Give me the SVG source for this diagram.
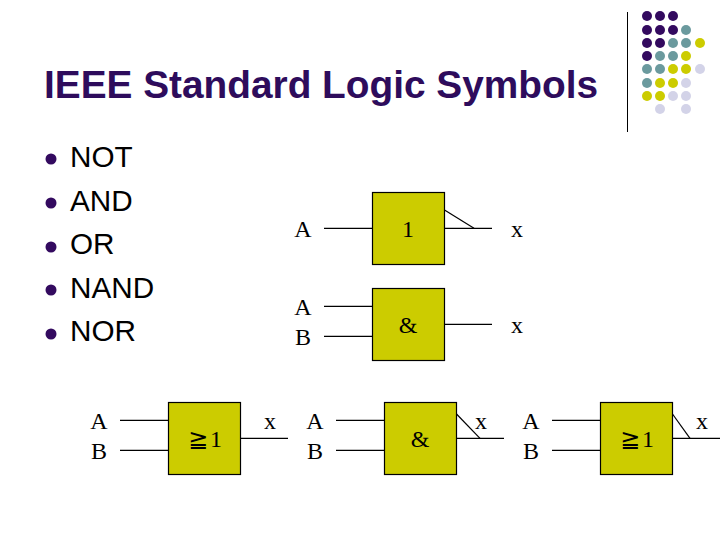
<svg xmlns="http://www.w3.org/2000/svg" width="720" height="540" viewBox="0 0 720 540">
<style>
.p{fill:#330a5f}.t{fill:#6b9a9e}.y{fill:#cccc00}.l{fill:#d3d3e8}
.title{font:bold 38.8px "Liberation Sans",Arial,sans-serif;fill:#2e0c5c}
.item{font:29.7px "Liberation Sans",Arial,sans-serif;fill:#000}
.s{font:24px "Liberation Serif","Times New Roman",serif;fill:#000;text-anchor:middle}
.ge{font:24px "DejaVu Sans",sans-serif;fill:#000}
.gate{fill:#cccc00;stroke:#000;stroke-width:1.2}
#connectors line{stroke:#000;stroke-width:1.2}
</style>
<rect width="720" height="540" fill="#fff"/>
<g id="decor">
<line x1="627.5" y1="12" x2="627.5" y2="132" stroke="#000" stroke-width="1"/>
<g class="p"><circle cx="647" cy="16" r="5"/><circle cx="660" cy="16" r="5"/><circle cx="673" cy="16" r="5"/><circle cx="647" cy="30" r="5"/><circle cx="660" cy="30" r="5"/><circle cx="673" cy="30" r="5"/><circle cx="647" cy="43" r="5"/><circle cx="660" cy="43" r="5"/><circle cx="647" cy="56" r="5"/></g>
<g class="t"><circle cx="686" cy="30" r="5"/><circle cx="673" cy="43" r="5"/><circle cx="686" cy="43" r="5"/><circle cx="660" cy="56" r="5"/><circle cx="673" cy="56" r="5"/><circle cx="647" cy="69" r="5"/><circle cx="660" cy="69" r="5"/><circle cx="647" cy="83" r="5"/></g>
<g class="y"><circle cx="700" cy="43" r="5"/><circle cx="686" cy="56" r="5"/><circle cx="673" cy="69" r="5"/><circle cx="686" cy="69" r="5"/><circle cx="660" cy="83" r="5"/><circle cx="673" cy="83" r="5"/><circle cx="647" cy="96" r="5"/><circle cx="660" cy="96" r="5"/></g>
<g class="l"><circle cx="700" cy="69" r="5"/><circle cx="686" cy="83" r="5"/><circle cx="673" cy="96" r="5"/><circle cx="686" cy="96" r="5"/><circle cx="660" cy="109" r="5"/><circle cx="686" cy="109" r="5"/></g>
</g>
<text class="title" x="44" y="98">IEEE Standard Logic Symbols</text>
<g id="bullets">
<g class="p"><circle cx="51" cy="159" r="5.5"/><circle cx="51" cy="203" r="5.5"/><circle cx="51" cy="247" r="5.5"/><circle cx="51" cy="290" r="5.5"/><circle cx="51" cy="334" r="5.5"/></g>
<text class="item" x="70" y="167">NOT</text>
<text class="item" x="70" y="211">AND</text>
<text class="item" x="70" y="254">OR</text>
<text class="item" x="70" y="298">NAND</text>
<text class="item" x="70" y="341">NOR</text>
</g>
<g id="connectors">
<line x1="324" y1="228.3" x2="372" y2="228.3"/><line x1="444" y1="228.3" x2="492" y2="228.3"/><line x1="444.5" y1="210" x2="474" y2="228.3"/>
<line x1="324" y1="306.3" x2="372" y2="306.3"/><line x1="324" y1="336.3" x2="372" y2="336.3"/><line x1="444" y1="324.3" x2="492" y2="324.3"/>
<line x1="120" y1="420.3" x2="168" y2="420.3"/><line x1="120" y1="450.3" x2="168" y2="450.3"/><line x1="240" y1="438.3" x2="288" y2="438.3"/>
<line x1="336" y1="420.3" x2="384" y2="420.3"/><line x1="336" y1="450.3" x2="384" y2="450.3"/><line x1="456" y1="438.3" x2="504" y2="438.3"/><line x1="456.5" y1="414" x2="480" y2="438.3"/>
<line x1="552" y1="420.3" x2="600" y2="420.3"/><line x1="552" y1="450.3" x2="600" y2="450.3"/><line x1="672" y1="438.3" x2="720" y2="438.3"/><line x1="672.5" y1="414" x2="690" y2="438.3"/>
</g>
<g id="not-gate"><rect class="gate" x="372.5" y="192.5" width="72" height="72"/><text class="s" x="408" y="237">1</text></g>
<g id="and-gate"><rect class="gate" x="372.5" y="288.5" width="72" height="72"/><text class="s" x="408" y="333">&amp;</text></g>
<g id="or-gate"><rect class="gate" x="168.5" y="402.5" width="72" height="72"/><text class="ge" x="188" y="447">≧</text><text class="s" x="216" y="447">1</text></g>
<g id="nand-gate"><rect class="gate" x="384.5" y="402.5" width="72" height="72"/><text class="s" x="420" y="447">&amp;</text></g>
<g id="nor-gate"><rect class="gate" x="600.5" y="402.5" width="72" height="72"/><text class="ge" x="620" y="447">≧</text><text class="s" x="648" y="447">1</text></g>
<g id="labels">
<text class="s" x="303" y="237">A</text><text class="s" x="517" y="237">x</text>
<text class="s" x="303" y="315">A</text><text class="s" x="303" y="345">B</text><text class="s" x="517" y="333">x</text>
<text class="s" x="99" y="429">A</text><text class="s" x="99" y="459">B</text><text class="s" x="270" y="429">x</text>
<text class="s" x="315" y="429">A</text><text class="s" x="315" y="459">B</text><text class="s" x="481" y="429">x</text>
<text class="s" x="531" y="429">A</text><text class="s" x="531" y="459">B</text><text class="s" x="702" y="429">x</text>
</g>
</svg>
